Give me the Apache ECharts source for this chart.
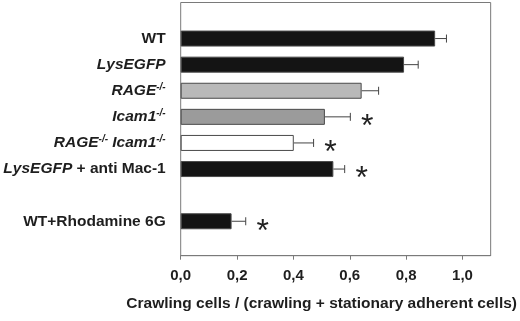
<!DOCTYPE html>
<html>
<head>
<meta charset="utf-8">
<script src="https://cdn.jsdelivr.net/npm/echarts@6/dist/echarts.min.js"></script>
<style>
  html, body { margin: 0; padding: 0; background: #fff; }
  #chart { width: 520px; height: 321px; }
</style>
</head>
<body>
<div id="chart"></div>
<script>
// groups, top to bottom ('' = empty row before the Rhodamine group)
var categories = ['WT', 'LysEGFP', 'RAGE-/-', 'Icam1-/-', 'RAGE-/- Icam1-/-', 'LysEGFP + anti Mac-1', '', 'WT+Rhodamine 6G'];
var labelMarkup = [
  '{b|WT}',
  '{i|LysEGFP}',
  '{i|RAGE}{sup|-/-}',
  '{i|Icam1}{sup|-/-}',
  '{i|RAGE}{sup|-/-}{i| Icam1}{sup|-/-}',
  '{i|LysEGFP}{b| + anti Mac-1}',
  '',
  '{b|WT+Rhodamine 6G}'
];
var values = [0.90, 0.79, 0.64, 0.51, 0.40, 0.54, null, 0.18];
var errors = [0.04, 0.05, 0.06, 0.09, 0.07, 0.04, null, 0.05];
var significant = [0, 0, 0, 1, 1, 1, 0, 1];
var barColors = ['#141414', '#141414', '#b9b9b9', '#9b9b9b', '#ffffff', '#141414', '#fff', '#141414'];
var xTicks = [0, 0.2, 0.4, 0.6, 0.8, 1.0];

var font = 'Liberation Sans, Arial, sans-serif';
var chart = echarts.init(document.getElementById('chart'));

var errData = [];
values.forEach(function (v, i) {
  if (v != null) errData.push([v, i, errors[i], significant[i]]);
});

chart.setOption({
  backgroundColor: '#fff',
  animation: false,
  grid: [
    // frame
    { left: 180.7, right: 28.3, top: 2.5, bottom: 65.3, show: true, borderColor: '#7a7a7a', borderWidth: 1 },
    // bars
    { left: 180.7, right: 28.3, top: 25.5, height: 208.8 }
  ],
  xAxis: [
    {
      gridIndex: 0, type: 'value', min: 0, max: 1.1, interval: 0.2,
      splitLine: { show: false },
      axisLine: { lineStyle: { color: '#7a7a7a' } },
      axisTick: { show: true, length: 4, lineStyle: { color: '#7a7a7a' } },
      axisLabel: {
        margin: 13, fontFamily: font, fontWeight: 'bold', fontSize: 15, color: '#1e1e1e',
        showMaxLabel: false,
        formatter: function (v) { return xTicks.indexOf(Math.round(v * 10) / 10) >= 0 ? v.toFixed(1).replace('.', ',') : ''; }
      },
      name: 'Crawling cells / (crawling + stationary adherent cells)',
      nameLocation: 'middle', nameGap: 40,
      nameTextStyle: { fontFamily: font, fontWeight: 'bold', fontSize: 15.5, color: '#1e1e1e', padding: [0, 28, 0, 0] }
    },
    { gridIndex: 1, type: 'value', min: 0, max: 1.1, show: false }
  ],
  yAxis: [
    { gridIndex: 0, type: 'value', show: false },
    {
      gridIndex: 1, type: 'category', inverse: true, data: categories,
      axisLine: { show: false }, axisTick: { show: false },
      axisLabel: {
        margin: 15, color: '#1e1e1e',
        formatter: function (v, i) { return labelMarkup[i]; },
        rich: {
          b: { fontFamily: font, fontWeight: 'bold', fontSize: 15.5, color: '#1e1e1e' },
          i: { fontFamily: font, fontWeight: 'bold', fontStyle: 'italic', fontSize: 15.5, color: '#1e1e1e' },
          sup: { fontFamily: font, fontWeight: 'bold', fontStyle: 'italic', fontSize: 10, color: '#1e1e1e', verticalAlign: 'top', padding: [0, 0, 8, 0] }
        }
      }
    }
  ],
  series: [
    {
      type: 'bar', xAxisIndex: 1, yAxisIndex: 1, barWidth: 16,
      data: values.map(function (v, i) {
        return { value: v, itemStyle: { color: barColors[i], borderColor: '#4a4a4a', borderWidth: 1 } };
      })
    },
    {
      type: 'custom', xAxisIndex: 1, yAxisIndex: 1,
      data: errData,
      renderItem: function (params, api) {
        var p0 = api.coord([api.value(0), api.value(1)]);
        var p1 = api.coord([api.value(0) + api.value(2), api.value(1)]);
        var kids = [
          { type: 'line', shape: { x1: p0[0], y1: p0[1], x2: p1[0], y2: p1[1] }, style: { stroke: '#444', lineWidth: 1 } },
          { type: 'line', shape: { x1: p1[0], y1: p1[1] - 4, x2: p1[0], y2: p1[1] + 4 }, style: { stroke: '#444', lineWidth: 1 } }
        ];
        if (api.value(3)) {
          kids.push({
            type: 'text',
            style: { text: '*', x: p1[0] + 17, y: p1[1] + 10.5, align: 'center', verticalAlign: 'middle',
              fontFamily: font, fontSize: 32, fill: '#222' }
          });
        }
        return { type: 'group', children: kids };
      }
    }
  ]
});
</script>
</body>
</html>
